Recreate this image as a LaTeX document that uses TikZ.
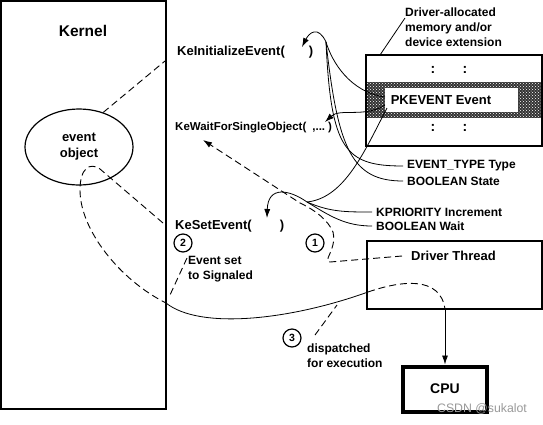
\documentclass[tikz,border=0pt]{standalone}
\usepackage{fontspec}
\setmainfont{Liberation Sans}
\usetikzlibrary{arrows.meta,patterns,shapes.geometric}
\begin{document}
\begin{tikzpicture}[x=1pt, y=-1pt, font=\bfseries]

\tikzstyle{box1}=[rectangle, draw, line width=1.2pt, inner sep=0pt]
\tikzstyle{box2}=[rectangle, draw, line width=4pt, inner sep=0pt]
\tikzstyle{oval}=[ellipse, draw, line width=1.2pt, align=center, inner sep=0pt, font=\fontsize{13}{16}\selectfont\bfseries]
\tikzstyle{fname}=[anchor=west, inner sep=0pt, font=\fontsize{13}{15}\selectfont\bfseries]
\tikzstyle{lbl}=[anchor=west, inner xsep=4pt, inner ysep=0pt, align=left, font=\fontsize{12}{14.5}\selectfont\bfseries]
\tikzstyle{num}=[circle, draw, line width=1.2pt, minimum size=18pt, inner sep=0pt, font=\fontsize{10.5}{12}\selectfont\bfseries]
\tikzstyle{link}=[line width=0.8pt]
\tikzstyle{arrow}=[-{Latex[length=9pt,width=6pt]}, line width=0.8pt]
\tikzstyle{dline}=[line width=0.9pt, dash pattern=on 7pt off 4pt]
\tikzstyle{darrow}=[-{Latex[length=9pt,width=6pt]}, line width=0.9pt, dash pattern=on 7pt off 4pt]

\useasboundingbox (0,0) rectangle (543,424);

% kernel side
\node (K) [box1, minimum width=165pt, minimum height=408pt] at (83.5,205) {};
\node (Klbl) at (83,31) {\fontsize{15.5}{18}\selectfont Kernel};
\node (E) [oval, minimum width=108pt, minimum height=76pt] at (79,147) {event\\object};

% calls
\node (KI) [fname] at (177,52) {KeInitializeEvent(\hspace{24pt})};
\node (KW) [fname, font=\fontsize{11.5}{14}\selectfont\bfseries] at (175,128) {KeWaitForSingleObject(\hspace{6pt},...\hspace{3pt})};
\node (KS) [fname] at (175,226) {KeSetEvent(\hspace{28pt})};

% driver memory
\fill [black!80] (366,82) rectangle (542,118);
\fill [pattern=crosshatch dots, pattern color=white] (366,82) rectangle (542,118);
\fill [white] (385,88) rectangle (518,112);
\node (M) [box1, minimum width=176pt, minimum height=91pt] at (454,100.5) {};
\node (PK) at (441,100) {\fontsize{13}{15}\selectfont PKEVENT Event};
\foreach \y in {70,128}
  \foreach \x in {433,465}
    \node (c\x\y) at (\x,\y) {\fontsize{14}{15}\selectfont :};
\node (ML) [lbl, anchor=north west, inner sep=0pt, align=left, font=\fontsize{12}{15}\selectfont\bfseries] at (405,8) {Driver-allocated\\memory and/or\\device extension};
\coordinate (mtop) at (380,55);
\coordinate (mlbl) at (405,18);
\draw [link] (mtop) -- (mlbl);

\node (ET) [lbl] at (403,166) {EVENT\_TYPE Type};
\node (BS) [lbl] at (403,181) {BOOLEAN State};
\node (KP) [lbl] at (372,212) {KPRIORITY Increment};
\node (BW) [lbl] at (372,226) {BOOLEAN Wait};

% driver thread and cpu
\node (DT) [box1, minimum width=175pt, minimum height=68pt] at (454.5,275) {};
\node (DTlbl) [anchor=west, inner xsep=9pt, inner ysep=0pt] at (402,256) {\fontsize{13}{15}\selectfont Driver Thread};
\node (CPU) [box2, minimum width=84pt, minimum height=45pt, font=\fontsize{14}{16}\selectfont\bfseries] at (445,389) {\raisebox{-3pt}{CPU}};

% steps
\node (n1) [num] at (315,243) {1};
\node (n2) [num] at (183,243) {2};
\node (n3) [num] at (292,338) {3};
\node (L2) [lbl, inner xsep=0pt] at (188,269) {Event set\\to Signaled};
\node (L3) [lbl, inner xsep=0pt] at (307,355.5) {dispatched\\for execution};

% parameter links
\coordinate (pa) at (385,97);
\coordinate (pb) at (385,105);
\coordinate (pc) at (387,108);
\coordinate (ki) at (326,42);
\coordinate (ks) at (307,202);
\coordinate (kia) at (302,47);
\coordinate (kwa) at (325,122);
\coordinate (ksa) at (267,218);

\draw [arrow] (pa) .. controls (350,92) and (332,62) .. (ki) .. controls (318,25) and (309,33) .. (kia);
\draw [link] (ki) .. controls (331,150) and (345,166) .. (ET.west);
\draw [link] (ki) .. controls (338,150) and (352,181) .. (BS.west);
\draw [arrow] (pb) .. controls (365,118) and (340,108) .. (kwa);
\draw [link] (pc) .. controls (365,150) and (345,198) .. (ks);
\draw [arrow] (ks) .. controls (290,190) and (268,185) .. (ksa);
\draw [link] (ks) .. controls (330,212) and (345,212) .. (KP.west);
\draw [link] (ks) .. controls (330,216) and (345,226) .. (BW.west);

% event flow
\coordinate (kiin) at (165,61);
\coordinate (ksin) at (163,223);
\coordinate (evpt) at (100,169);
\coordinate (kout) at (166,303);
\coordinate (dtin) at (368,292);
\coordinate (dtout) at (445,309);
\coordinate (loop1) at (330,262);
\coordinate (kwin) at (203,140);
\coordinate (l2a) at (187,258);
\coordinate (l2b) at (170,295);
\coordinate (l3a) at (315,335);
\coordinate (l3b) at (337,305);

\draw [dline] (E.55) -- (kiin);
\draw [dline] (ksin) -- (evpt) .. controls (90,162) and (80,168) .. (80,190) .. controls (80,230) and (120,280) .. (kout);
\draw [link] (kout) .. controls (200,330) and (290,320) .. (dtin);
\draw [dline] (dtin) .. controls (400,281) and (440,275) .. (dtout);
\draw [arrow] (dtout) -- (CPU.north);
\draw [darrow] (DTlbl.west) -- (loop1) .. controls (322,261) and (337,250) .. (333,232) .. controls (328,220) and (315,210) .. (300,203) -- (kwin);
\draw [dline] (l2a) -- (l2b);
\draw [dline] (l3a) -- (l3b);

\node (wm) [text=black!40, font=\fontsize{12.3}{14}\selectfont\mdseries] at (482,409) {CSDN @sukalot};

\end{tikzpicture}
\end{document}
